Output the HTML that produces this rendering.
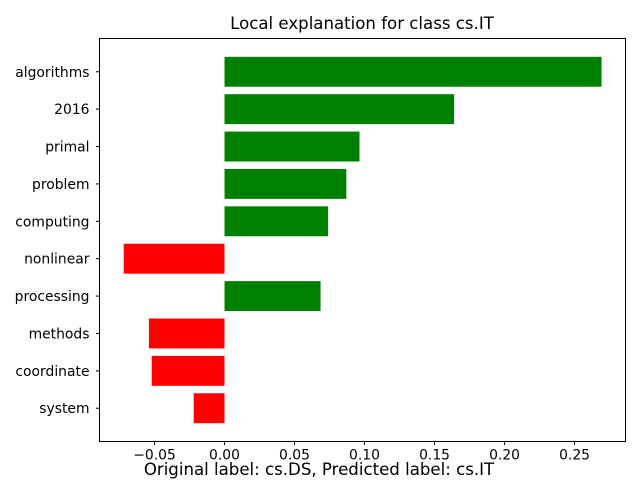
<!DOCTYPE html>
<html><head><meta charset="utf-8"><style>
body{margin:0;background:#fff}
svg{display:block;font-family:"DejaVu Sans","Liberation Sans",sans-serif}
</style></head><body>
<svg id="chart" width="640" height="480">
<rect width="640" height="480" fill="#fff"/>
<text x="362" y="29" font-size="16.6" text-anchor="middle">Local explanation for class cs.IT</text>
<g id="bars"></g>
<g id="xticks"></g>
<g id="yticks"></g>
<rect x="99.5" y="38.5" width="526" height="403" fill="none" stroke="#000" stroke-width="1"/>
<text x="319" y="475" font-size="16.6" text-anchor="middle">Original label: cs.DS, Predicted label: cs.IT</text>
</svg>
<script>
const categories = ["system","coordinate","methods","processing","nonlinear","computing","problem","primal","2016","algorithms"];
const weights = [-0.022,-0.052,-0.054,0.0686,-0.072,0.074,0.087,0.0964,0.164,0.2693];
const xTicks = [-0.05,0,0.05,0.10,0.15,0.20,0.25];
const xTickLabels = ["−0.05","0.00","0.05","0.10","0.15","0.20","0.25"];
const L=99.5,R=625.5,T=38.5,B=441.5;
const xMin=-0.0893,xMax=0.2864,yMin=-0.89,yMax=categories.length-1+0.89;
const sx=v=>L+(v-xMin)/(xMax-xMin)*(R-L);
const sy=i=>B-(i-yMin)/(yMax-yMin)*(B-T);
const NS="http://www.w3.org/2000/svg";
const bars=document.getElementById('bars'),xt=document.getElementById('xticks'),yt=document.getElementById('yticks');
const bh=0.8*(B-T)/(yMax-yMin);
weights.forEach((w,i)=>{
  const r=document.createElementNS(NS,'rect');
  const x0=sx(Math.min(0,w)),x1=sx(Math.max(0,w));
  r.setAttribute('x',x0);r.setAttribute('width',x1-x0);
  r.setAttribute('y',sy(i)-bh/2);r.setAttribute('height',bh);
  r.setAttribute('fill',w>0?'#008000':'#ff0000');
  
  
  bars.appendChild(r);
  const t=document.createElementNS(NS,'line');
  t.setAttribute('x1',L-3.5);t.setAttribute('x2',L);t.setAttribute('y1',sy(i));t.setAttribute('y2',sy(i));t.setAttribute('stroke','#000');
  
  
  yt.appendChild(t);
  const tx=document.createElementNS(NS,'text');
  tx.setAttribute('x',L-10);tx.setAttribute('y',sy(i)+5);tx.setAttribute('text-anchor','end');tx.setAttribute('font-size','13.9');
  tx.textContent=categories[i];
  
  
  yt.appendChild(tx);
});
xTicks.forEach((v,i)=>{
  const t=document.createElementNS(NS,'line');
  t.setAttribute('x1',sx(v));t.setAttribute('x2',sx(v));t.setAttribute('y1',B);t.setAttribute('y2',B+3.5);t.setAttribute('stroke','#000');
  
  
  xt.appendChild(t);
  const tx=document.createElementNS(NS,'text');
  tx.setAttribute('x',sx(v));tx.setAttribute('y',B+18);tx.setAttribute('text-anchor','middle');tx.setAttribute('font-size','13.9');
  tx.textContent=xTickLabels[i];
  
  
  xt.appendChild(tx);
});
</script>
</body></html>
